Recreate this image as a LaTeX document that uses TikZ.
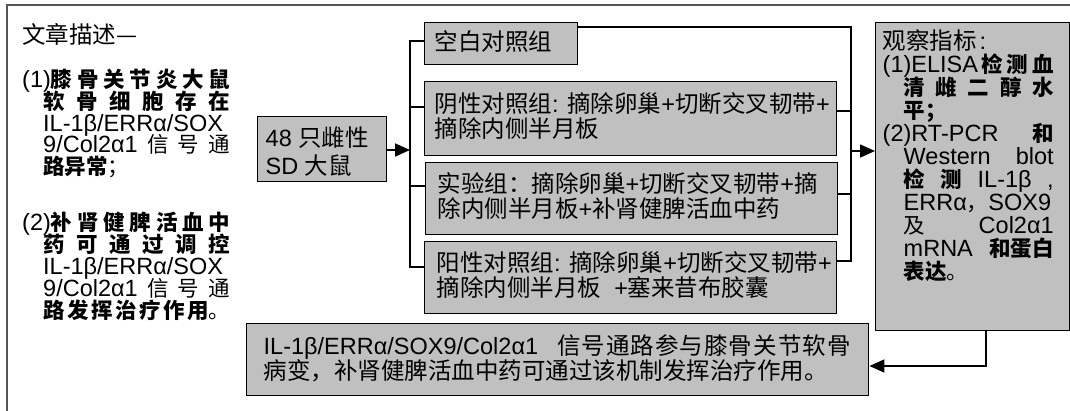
\documentclass[tikz,border=0pt]{standalone}
\usepackage{fontspec}
\setmainfont{Liberation Sans}
\newfontfamily\cjk{Noto Sans CJK SC}
\usetikzlibrary{arrows.meta}
\newcommand\C[1]{{\cjk #1}}
\newcommand\B[1]{{\cjk\bfseries #1}}
\newcommand\Cs[1]{{\cjk\fontsize{21.5}{21.5}\selectfont #1}}
\newcommand\Bs[1]{{\cjk\bfseries\fontsize{21.5}{21.5}\selectfont #1}}
\newcommand\jl[3]{\hbox{\hskip#1\relax\hbox to #2{#3}}}
\newcommand\natl[2]{\hbox{\hskip#1\relax #2}}
\definecolor{boxgray}{RGB}{192,192,192}
\definecolor{framegray}{RGB}{85,85,85}
\tikzset{
  every node/.style={font=\fontsize{23.5}{25}\selectfont},
  gbox/.style={draw=black, fill=boxgray, line width=1.4pt, inner ysep=0pt, anchor=north west},
  txt/.style={anchor=base west, inner sep=0pt},
  link/.style={line width=1.7pt, black},
  arr/.style={link, -{Triangle[length=15pt,width=13pt]}}
}
\begin{document}
\begin{tikzpicture}[x=1pt,y=-1pt]
\clip (0,0) rectangle (1070,410);
\fill[white] (0,0) rectangle (1070,410);
% outer frame
\draw[framegray, line width=1.6pt] (7,430) -- (7,5) -- (1090,5);

% left description
\node[txt] (p0) at (22,43.7) {\C{文章描述—}};
\node[txt] (p1) at (22,87.7) {\vtop{\baselineskip=21.75pt \lineskiplimit=-40pt
  \jl{0pt}{208pt}{(1)\Bs{膝}\hfill\Bs{骨}\hfill\Bs{关}\hfill\Bs{节}\hfill\Bs{炎}\hfill\Bs{大}\hfill\Bs{鼠}}
  \jl{21pt}{187pt}{\Bs{软}\hfill\Bs{骨}\hfill\Bs{细}\hfill\Bs{胞}\hfill\Bs{存}\hfill\Bs{在}}
  \jl{21pt}{187pt}{IL-1β/ERRα/SOX\hfil}
  \jl{21pt}{187pt}{9/Col2α1\hfill\Cs{信}\hfill\Cs{号}\hfill\Cs{通}}
  \jl{21pt}{187pt}{\Bs{路异常}\Cs{；}\hfil}}};
\node[txt] (p2) at (22,230.7) {\vtop{\baselineskip=22pt \lineskiplimit=-40pt
  \jl{0pt}{208pt}{(2)\Bs{补}\hfill\Bs{肾}\hfill\Bs{健}\hfill\Bs{脾}\hfill\Bs{活}\hfill\Bs{血}\hfill\Bs{中}}
  \jl{21pt}{187pt}{\Bs{药}\hfill\Bs{可}\hfill\Bs{通}\hfill\Bs{过}\hfill\Bs{调}\hfill\Bs{控}}
  \jl{21pt}{187pt}{IL-1β/ERRα/SOX\hfil}
  \jl{21pt}{187pt}{9/Col2α1\hfill\Cs{信}\hfill\Cs{号}\hfill\Cs{通}}
  \jl{21pt}{187pt}{\Bs{路}\hfill\Bs{发}\hfill\Bs{挥}\hfill\Bs{治}\hfill\Bs{疗}\hfill\Bs{作}\hfill\Bs{用}\Cs{。}}}};

% start box
\node[gbox, minimum width=129pt, minimum height=65pt, inner xsep=8pt,
      text height=29.7pt, text depth=35.3pt] (start) at (257,116)
  {\hbox to 113pt{\vtop{\baselineskip=28pt \lineskiplimit=-40pt
    \hbox{48 \C{只雌性}}
    \hbox{SD \C{大鼠}}}\hfil}};

% group boxes
\node[gbox, minimum width=153pt, minimum height=42pt, inner xsep=10pt,
      text height=27.4pt, text depth=14.6pt] (b1) at (424,22)
  {\hbox to 133pt{\C{空白对照组}\hfil}};
\node[gbox, minimum width=412pt, minimum height=74pt, inner xsep=10pt,
      text height=30.7pt, text depth=43.3pt] (b2) at (424,81)
  {\hbox to 392pt{\vtop{\baselineskip=25pt \lineskiplimit=-40pt
    \hbox{\C{阴性对照组}: \C{摘除卵巢}+\C{切断交叉韧带}+}
    \hbox{\C{摘除内侧半月板}}}\hfil}};
\node[gbox, minimum width=412pt, minimum height=72pt, inner xsep=12pt,
      text height=29.7pt, text depth=42.3pt] (b3) at (425,162)
  {\hbox to 388pt{\vtop{\baselineskip=25pt \lineskiplimit=-40pt
    \hbox{\C{实验组：摘除卵巢}+\C{切断交叉韧带}+\C{摘}}
    \hbox{\C{除内侧半月板}+\C{补肾健脾活血中药}}}\hfil}};
\node[gbox, minimum width=412pt, minimum height=72pt, inner xsep=12pt,
      text height=29.7pt, text depth=42.3pt] (b4) at (424,241)
  {\hbox to 388pt{\vtop{\baselineskip=25pt \lineskiplimit=-40pt
    \hbox{\C{阳性对照组}: \C{摘除卵巢}+\C{切断交叉韧带}+}
    \hbox{\C{摘除内侧半月板}\ \ +\C{塞来昔布胶囊}}}\hfil}};

% observation box
\node[gbox, minimum width=194pt, minimum height=308pt, inner xsep=7pt,
      text height=26.7pt, text depth=281.3pt] (res) at (875,22)
  {\hbox to 180pt{\vtop{\baselineskip=23pt \lineskiplimit=-40pt
    \natl{0pt}{\C{观察指标}\kern3pt:}
    \jl{0pt}{171pt}{(1)ELISA\hfill\Bs{检}\hfill\Bs{测}\hfill\Bs{血}}
    \jl{21pt}{150pt}{\Bs{清}\hfill\Bs{雌}\hfill\Bs{二}\hfill\Bs{醇}\hfill\Bs{水}}
    \natl{21pt}{\Bs{平；}}
    \jl{0pt}{171pt}{(2)RT-PCR\hfill\Bs{和}}
    \jl{21pt}{150pt}{Western\hfill blot}
    \jl{21pt}{150pt}{\Bs{检}\hfill\Bs{测}\hfill IL-1β\hfill,}
    \natl{21pt}{ERRα\Cs{，}SOX9}
    \jl{21pt}{150pt}{\Cs{及}\hfill Col2α1}
    \jl{21pt}{150pt}{mRNA\hfill\Bs{和蛋白}}
    \natl{21pt}{\Bs{表达}\Cs{。}}}\hfil}};

% conclusion box
\node[gbox, minimum width=622pt, minimum height=72pt, inner xsep=17pt,
      text height=30.7pt, text depth=41.3pt] (concl) at (246,323)
  {\hbox to 588pt{\vtop{\baselineskip=25pt \lineskiplimit=-40pt
    \jl{0pt}{587pt}{IL-1β/ERRα/SOX9/Col2α1\hskip19pt\C{信}\hfill\C{号}\hfill\C{通}\hfill\C{路}\hfill\C{参}\hfill\C{与}\hfill\C{膝}\hfill\C{骨}\hfill\C{关}\hfill\C{节}\hfill\C{软}\hfill\C{骨}}
    \hbox{\C{病变，补肾健脾活血中药可通过该机制发挥治疗作用。}}}\hfil}};

% left bracket
\coordinate (sj) at (410,150);
\coordinate (l1) at (410,41);
\coordinate (l2) at (410,107);
\coordinate (l3) at (410,186);
\coordinate (l4) at (410,267);
\draw[arr] (start.east |- sj) -- (sj);
\draw[link] (b1.west |- l1) -- (l1) -- (l4) -- (b4.west |- l4);
\draw[link] (l2) -- (b2.west |- l2);
\draw[link] (l3) -- (b3.west |- l3);

% right bracket
\coordinate (r1) at (851,27);
\coordinate (r2) at (851,111);
\coordinate (r3) at (851,194);
\coordinate (r4) at (851,261);
\coordinate (rj) at (851,151);
\draw[link] (b1.east |- r1) -- (r1) -- (r4) -- (b4.east |- r4);
\draw[link] (b2.east |- r2) -- (r2);
\draw[link] (b3.east |- r3) -- (r3);
\draw[arr] (rj) -- (res.west |- rj);

% feedback to conclusion
\coordinate (bd) at (986,366);
\draw[arr] (res.south -| bd) -- (bd) -- (concl.east |- bd);
\end{tikzpicture}
\end{document}
